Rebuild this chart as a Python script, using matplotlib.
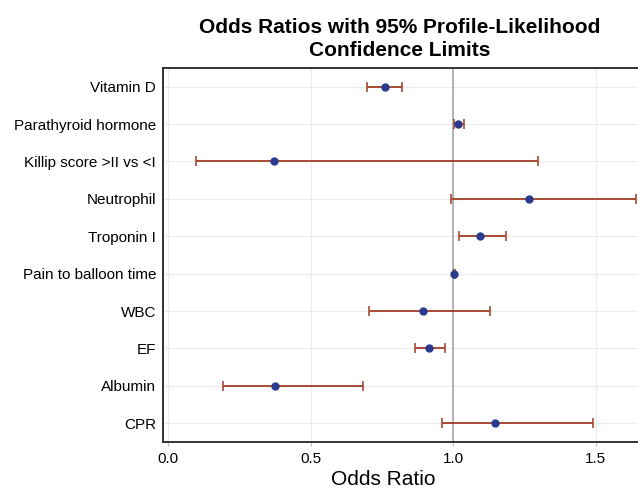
import numpy as np
import matplotlib

matplotlib.use('Agg')
import matplotlib.pyplot as plt

plt.rcParams['font.family'] = ['Liberation Sans', 'DejaVu Sans']

# ----- values -----
labels = ['Vitamin D', 'Parathyroid hormone', 'Killip score >II vs <I', 'Neutrophil',
          'Troponin I', 'Pain to balloon time', 'WBC', 'EF', 'Albumin', 'CPR']
odds = [0.760, 1.018, 0.371, 1.265, 1.092, 1.004, 0.894, 0.915, 0.375, 1.145]
lower = [0.696, 1.004, 0.099, 0.993, 1.021, 1.002, 0.703, 0.866, 0.194, 0.961]
upper = [0.820, 1.039, 1.297, 1.640, 1.184, 1.006, 1.127, 0.972, 0.682, 1.491]
xticks = [0.0, 0.5, 1.0, 1.5]

odds = np.array(odds)
err = np.vstack([odds - np.array(lower), np.array(upper) - odds])
ypos = np.arange(len(labels))

fig = plt.figure(figsize=(6.38, 4.88), dpi=100)
ax = fig.add_axes([0.2555, 0.0943, 0.75, 0.7664])

ax.axvline(1.0, color='#a8a8a8', lw=1.2, zorder=1)
ax.errorbar(odds, ypos, xerr=err, fmt='none', ecolor='#a84a35', elinewidth=1.4,
            capsize=3.5, capthick=1.2, zorder=2)
ax.plot(odds, ypos, 'o', color='#2a3a8f', ms=5, zorder=3)

ax.set_xlim(-0.018, 1.66)
ax.set_ylim(len(labels) - 0.5, -0.5)
ax.set_yticks(ypos)
ax.set_yticklabels(labels, fontsize=11)
ax.set_xticks(xticks)
ax.set_xticklabels(['{:.1f}'.format(t) for t in xticks], fontsize=11)
ax.grid(True, color='#ececec', lw=0.8)
ax.set_axisbelow(True)
ax.tick_params(axis='y', length=0, pad=5)
ax.tick_params(axis='x', length=3, color='#bbbbbb', pad=4)
for s in ['left', 'bottom', 'top']:
    ax.spines[s].set_color('#333333')
    ax.spines[s].set_linewidth(1.4)
ax.spines['right'].set_visible(False)

ax.set_xlabel('Odds Ratio', fontsize=15, labelpad=1)
ax.xaxis.set_label_coords(0.46, -0.075)
fig.suptitle('Odds Ratios with 95% Profile-Likelihood\nConfidence Limits',
             fontsize=15, fontweight='bold', x=0.627, y=0.963, linespacing=1.25)

fig.savefig('out.png', dpi=100)
